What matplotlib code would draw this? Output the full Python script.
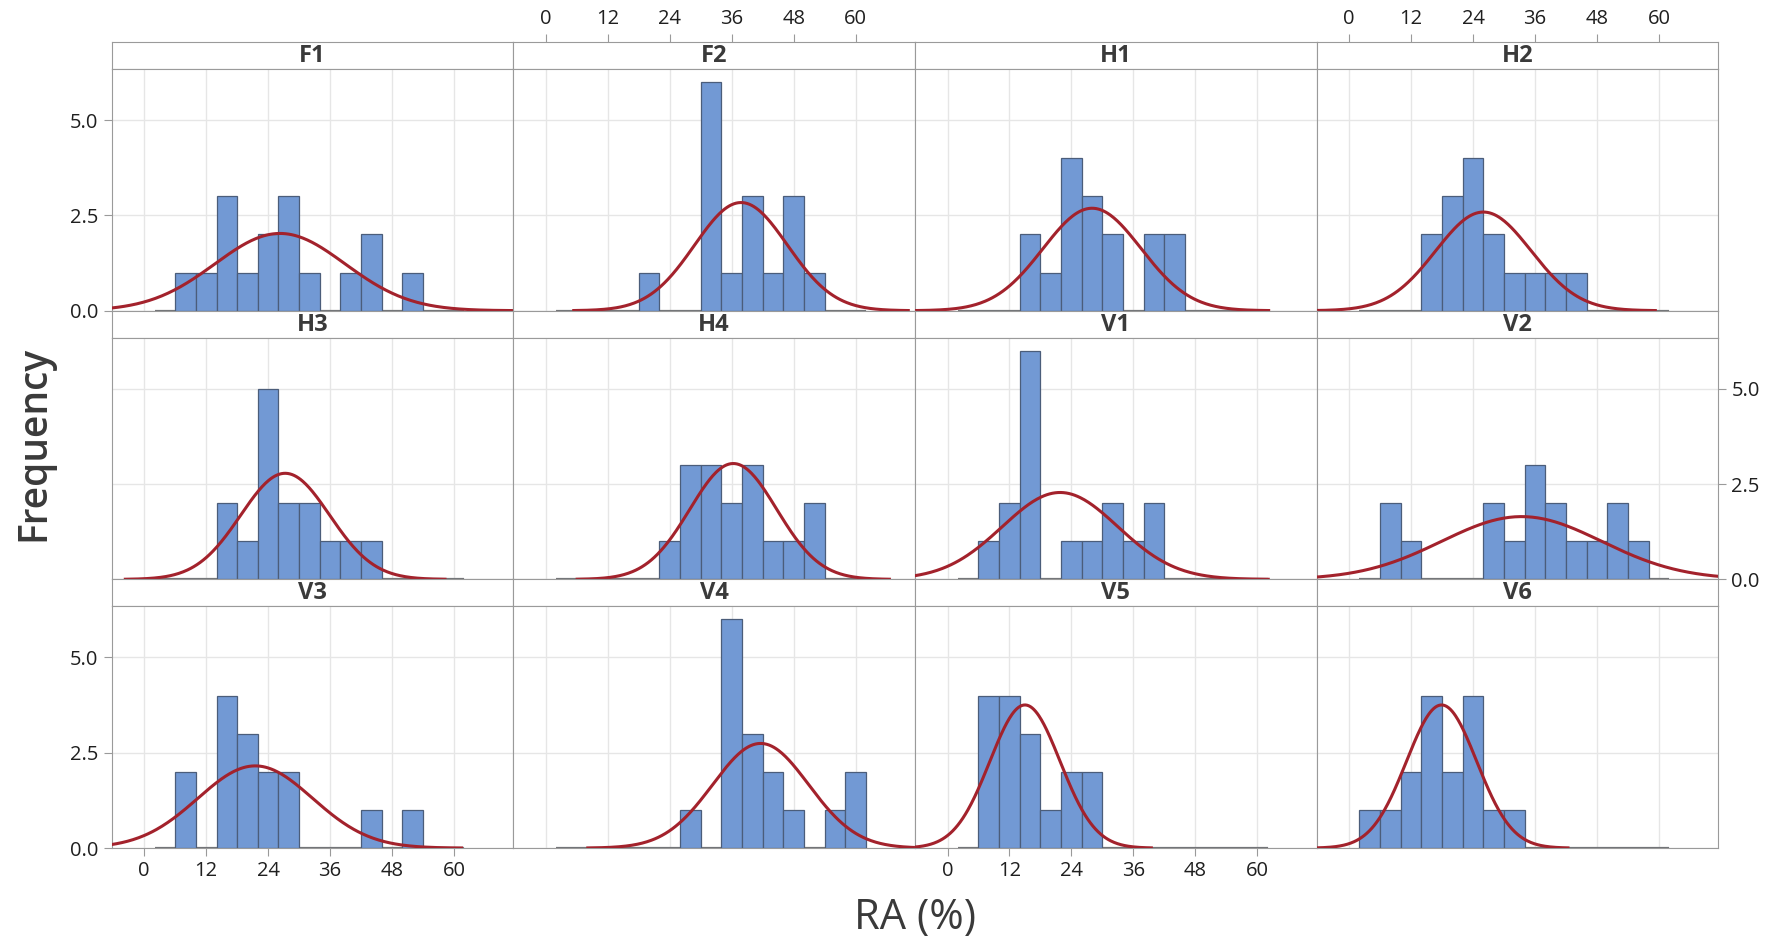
import numpy as np
import matplotlib.pyplot as plt

plt.rcParams["font.family"] = ["Open Sans", "DejaVu Sans"]

# histogram bins: width 4 from 2 to 62
bin_edges = np.arange(2, 63, 4)

panel_names = ["F1", "F2", "H1", "H2",
               "H3", "H4", "V1", "V2",
               "V3", "V4", "V5", "V6"]

f1_counts = [0, 1, 1, 3, 1, 2, 3, 1, 0, 1, 2, 0, 1, 0, 0]
f2_counts = [0, 0, 0, 0, 1, 0, 0, 6, 1, 3, 1, 3, 1, 0, 0]
h1_counts = [0, 0, 0, 2, 1, 4, 3, 2, 0, 2, 2, 0, 0, 0, 0]
h2_counts = [0, 0, 0, 2, 3, 4, 2, 1, 1, 1, 1, 0, 0, 0, 0]
h3_counts = [0, 0, 0, 2, 1, 5, 2, 2, 1, 1, 1, 0, 0, 0, 0]
h4_counts = [0, 0, 0, 0, 0, 1, 3, 3, 2, 3, 1, 1, 2, 0, 0]
v1_counts = [0, 1, 2, 6, 0, 1, 1, 2, 1, 2, 0, 0, 0, 0, 0]
v2_counts = [0, 2, 1, 0, 0, 0, 2, 1, 3, 2, 1, 1, 2, 1, 0]
v3_counts = [0, 2, 0, 4, 3, 2, 2, 0, 0, 0, 1, 0, 1, 0, 0]
v4_counts = [0, 0, 0, 0, 0, 0, 1, 0, 6, 3, 2, 1, 0, 1, 2]
v5_counts = [0, 4, 4, 3, 1, 2, 2, 0, 0, 0, 0, 0, 0, 0, 0]
v6_counts = [1, 1, 2, 4, 2, 4, 1, 1, 0, 0, 0, 0, 0, 0, 0]

panel_counts = [f1_counts, f2_counts, h1_counts, h2_counts,
                h3_counts, h4_counts, v1_counts, v2_counts,
                v3_counts, v4_counts, v5_counts, v6_counts]

# normal fit parameters (mean, st. dev.) per panel
fit_mean = [26.3, 37.8, 28.0, 26.0, 27.3, 36.3, 21.8, 33.4, 21.5, 41.6, 15.0, 17.9]
fit_sd = [12.6, 9.0, 9.5, 9.25, 8.6, 8.4, 11.2, 15.5, 11.1, 9.3, 6.8, 6.8]

x_ticks = [0, 12, 24, 36, 48, 60]
y_ticks = [0.0, 2.5, 5.0]

W, H = 1781, 943
fig = plt.figure(figsize=(W / 100, H / 100), dpi=100)

BAR = "#7299d4"
BAR_EDGE = "#4b5d7a"
CURVE = "#a3222c"
FRAME = "#9a9a9a"
GRID = "#e6e6e6"
TEXT = "#1f1f1f"
TICK_SIZE = 14.5

col_left = 111.7
col_w = 401.65
top0 = 42.0
strip_h = 27.0
plot_h = 241.7
row_h = strip_h + plot_h
xlim = (-6.3, 71.5)
ylim = (0, 6.34)


def px_axes(left, top, w, h):
    return fig.add_axes([left / W, 1 - (top + h) / H, w / W, h / H])


for i, name in enumerate(panel_names):
    r, c = divmod(i, 4)
    left = col_left + c * col_w
    s_top = top0 + r * row_h

    # panel strip with the group name
    sax = px_axes(left, s_top, col_w, strip_h)
    sax.set_xlim(xlim)
    sax.set_ylim(0, 1)
    sax.set_yticks([])
    sax.text(0.5, 0.48, name, transform=sax.transAxes, ha="center", va="center",
             fontsize=17, fontweight="bold", color="#3a3a3a")
    for sp in sax.spines.values():
        sp.set_color(FRAME)
    if r == 0 and c in (1, 3):
        sax.xaxis.tick_top()
        sax.set_xticks(x_ticks)
        sax.tick_params(axis="x", colors=FRAME, labelcolor=TEXT, labelsize=TICK_SIZE,
                        length=6, direction="out")
    else:
        sax.set_xticks([])

    ax = px_axes(left, s_top + strip_h, col_w, plot_h)
    ax.set_xlim(xlim)
    ax.set_ylim(ylim)
    ax.set_xticks(x_ticks)
    ax.set_yticks(y_ticks)
    ax.grid(True, color=GRID, linewidth=1.0)
    ax.set_axisbelow(True)
    for sp in ax.spines.values():
        sp.set_color(FRAME)

    counts = np.array(panel_counts[i])
    ax.hlines(0, bin_edges[0], bin_edges[-1], color="#777777", linewidth=1.6, zorder=2)
    ax.bar(bin_edges[:-1], counts, width=4, align="edge", color=BAR,
           edgecolor=BAR_EDGE, linewidth=0.9, zorder=3)

    mu, sd = fit_mean[i], fit_sd[i]
    xs = np.linspace(mu - 3.6 * sd, mu + 3.6 * sd, 300)
    dens = counts.sum() * 4 / (sd * np.sqrt(2 * np.pi)) * np.exp(-0.5 * ((xs - mu) / sd) ** 2)
    ax.plot(xs, dens, color=CURVE, linewidth=2.2, zorder=4)

    show_x = r == 2 and c in (0, 2)
    ax.tick_params(axis="x", colors=FRAME, labelcolor=TEXT, labelsize=TICK_SIZE,
                   length=6 if show_x else 0, labelbottom=show_x, direction="out")

    if c == 0 and r in (0, 2):
        ax.set_yticklabels([f"{v:.1f}" for v in y_ticks])
        ax.tick_params(axis="y", colors=FRAME, labelcolor=TEXT, labelsize=TICK_SIZE,
                       length=6, direction="out")
    elif c == 3 and r == 1:
        ax.yaxis.tick_right()
        ax.set_yticklabels([f"{v:.1f}" for v in y_ticks])
        ax.tick_params(axis="y", colors=FRAME, labelcolor=TEXT, labelsize=TICK_SIZE,
                       length=6, direction="out")
    else:
        ax.tick_params(axis="y", length=0, labelleft=False, labelright=False)

fig.text(34 / W, 1 - 443 / H, "Frequency", rotation=90, ha="center", va="center",
         fontsize=28, fontweight="semibold", color="#3a3a3a")
fig.text(915 / W, 1 - 918 / H, "RA (%)", ha="center", va="center",
         fontsize=30, color="#3a3a3a")

fig.savefig("out.png", dpi=100, facecolor="white")
